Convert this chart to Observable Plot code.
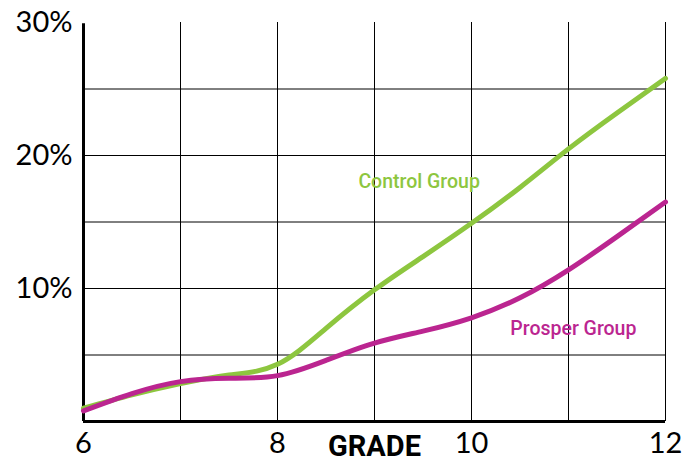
<!DOCTYPE html>
<html>
<head>
<meta charset="utf-8">
<script src="https://cdn.jsdelivr.net/npm/d3@7"></script>
<script src="https://cdn.jsdelivr.net/npm/@observablehq/plot@0.6"></script>
<style>
  html, body { margin: 0; padding: 0; background: #fff; }
  #chart svg { display: block; overflow: visible; }
</style>
</head>
<body>
<div id="chart"></div>
<script>
const grades  = [6, 6.5, 7, 7.5, 8, 8.5, 9, 9.5, 10, 10.5, 11, 11.5, 12];
const control = [1.0, 2.0, 2.85, 3.5, 4.3, 7.0, 9.9, 12.4, 14.9, 17.6, 20.5, 23.2, 25.8];
const prosper = [0.8, 2.1, 3.0, 3.25, 3.45, 4.6, 5.9, 6.8, 7.8, 9.3, 11.4, 13.9, 16.5];

const xTicks = [6, 8, 10, 12];
const yTicks = [10, 20, 30];
const xGrid = [7, 8, 9, 10, 11, 12];
const yGrid = [5, 10, 15, 20, 25];

const seriesLabels = [
  {name: "Control Group", grade: 9.46, value: 18.0, color: "#8dc63f"},
  {name: "Prosper Group", grade: 11.05, value: 6.95, color: "#bb2590"}
];

const controlData = grades.map((g, i) => ({grade: g, value: control[i]}));
const prosperData = grades.map((g, i) => ({grade: g, value: prosper[i]}));

const chart = Plot.plot({
  width: 699,
  height: 462,
  marginLeft: 83,
  marginRight: 34,
  marginTop: 22,
  marginBottom: 41,
  style: {fontFamily: "Lato, sans-serif", color: "#000", background: "#fff"},
  x: {domain: [6, 12]},
  y: {domain: [0, 30]},
  marks: [
    Plot.ruleX(xGrid, {y1: 0, y2: 30, stroke: "#000", strokeWidth: 1}),
    Plot.ruleY(yGrid, {x1: 6, x2: 12, stroke: "#000", strokeWidth: 1}),
    Plot.ruleX([6], {y1: 0, y2: 29.9, stroke: "#000", strokeWidth: 3}),
    Plot.ruleY([0], {x1: 6, x2: 12, stroke: "#000", strokeWidth: 3}),
    Plot.axisX(xTicks, {tickSize: 0, tickPadding: 11, fontSize: 29, label: null, tickFormat: d => String(d)}),
    Plot.text([9], {x: d => d, y: 0, text: () => "GRADE", dy: 25, fontSize: 29, fontWeight: "bold", fontFamily: "Roboto, sans-serif", lineAnchor: "middle"}),
    Plot.axisY(yTicks, {tickSize: 0, tickPadding: 11, fontSize: 29, label: null, tickFormat: d => d + "%"}),
    Plot.line(controlData, {x: "grade", y: "value", stroke: "#8dc63f", strokeWidth: 5, curve: "natural", strokeLinecap: "round"}),
    Plot.line(prosperData, {x: "grade", y: "value", stroke: "#bb2590", strokeWidth: 5, curve: "natural", strokeLinecap: "round"}),
    Plot.text(seriesLabels, {x: "grade", y: "value", text: "name", fill: "color", fontSize: 19.5, fontWeight: 500, fontFamily: "Roboto, sans-serif"})
  ]
});
document.getElementById("chart").appendChild(chart);
</script>
</body>
</html>
